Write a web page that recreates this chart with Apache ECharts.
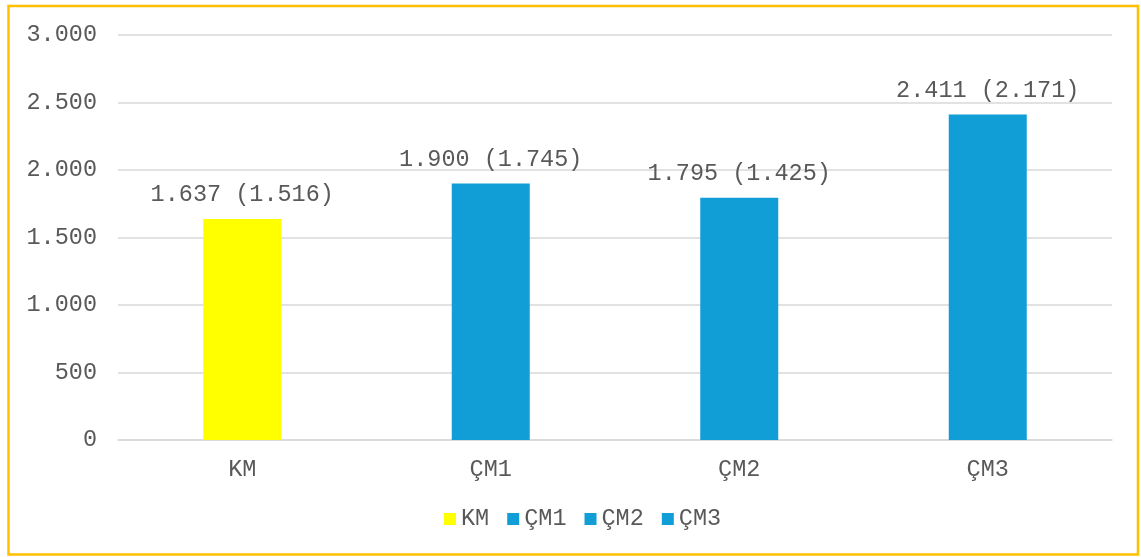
<!DOCTYPE html>
<html>
<head>
	<meta charset="utf-8">
	<title>KM / ÇM</title>
	<script type="text/javascript" src="https://cdn.jsdelivr.net/npm/echarts@6/dist/echarts.min.js"></script>
	<style>
		body { margin: 0; background: #fff; }
	</style>
</head>
<body>
	<div style="height: 557px; width: 1141px" id="chart"></div>

	<script type="text/javascript">
		// veriler
		var categories = ['KM', 'ÇM1', 'ÇM2', 'ÇM3'];
		var values = [1637, 1900, 1795, 2411];
		var innerValues = [1516, 1745, 1425, 2171];   // parantez içindeki değerler
		var colors = ['#FFFF00', '#119ED6', '#119ED6', '#119ED6'];
		var yTicks = [0, 500, 1000, 1500, 2000, 2500, 3000];

		function fmt(n) {
			// binlik ayırıcı nokta
			return String(n).replace(/\B(?=(\d{3})+(?!\d))/g, '.');
		}

		var font = '"Liberation Mono", "Courier New", monospace';
		var textColor = '#595959';

		var series = [];
		for (var i = 0; i < categories.length; i++) {
			var d = [];
			for (var j = 0; j < categories.length; j++) {
				d.push(j === i ? values[i] : null);
			}
			series.push({
				name: categories[i],
				type: 'bar',
				stack: 'all',
				barWidth: 78,
				data: d,
				itemStyle: { color: colors[i] },
				label: {
					show: true,
					position: 'top',
					distance: 12,
					fontFamily: font,
					fontSize: 23.5,
					color: textColor,
					formatter: (function (k) {
						return function () {
							return fmt(values[k]) + ' (' + fmt(innerValues[k]) + ')';
						};
					})(i)
				}
			});
		}

		var chart = echarts.init(document.getElementById('chart'));
		var option = {
			animation: false,
			backgroundColor: '#fff',
			textStyle: { fontFamily: font },
			graphic: [{
				type: 'rect',
				shape: { x: 8.5, y: 6, width: 1129.5, height: 548.5 },
				style: { fill: 'none', stroke: '#FFC000', lineWidth: 2.5 },
				silent: true
			}],
			grid: {
				left: 118,
				right: 29,
				top: 35,
				bottom: 117
			},
			legend: {
				bottom: 21,
				left: 439,
				itemWidth: 12,
				itemHeight: 12,
				itemGap: 18,
				icon: 'rect',
				data: categories,
				textStyle: { fontFamily: font, fontSize: 23.5, color: textColor }
			},
			xAxis: {
				type: 'category',
				data: categories,
				axisTick: { show: false },
				axisLine: { lineStyle: { color: '#d9d9d9', width: 1.5 } },
				axisLabel: { margin: 18, fontFamily: font, fontSize: 23.5, color: textColor }
			},
			yAxis: {
				type: 'value',
				min: yTicks[0],
				max: yTicks[yTicks.length - 1],
				interval: 500,
				axisLine: { show: false },
				axisTick: { show: false },
				splitLine: { lineStyle: { color: '#d9d9d9', width: 1.5 } },
				axisLabel: {
					margin: 21,
					fontFamily: font,
					fontSize: 23.5,
					color: textColor,
					formatter: function (v) { return fmt(v); }
				}
			},
			series: series
		};
		chart.setOption(option);
	</script>
</body>
</html>
